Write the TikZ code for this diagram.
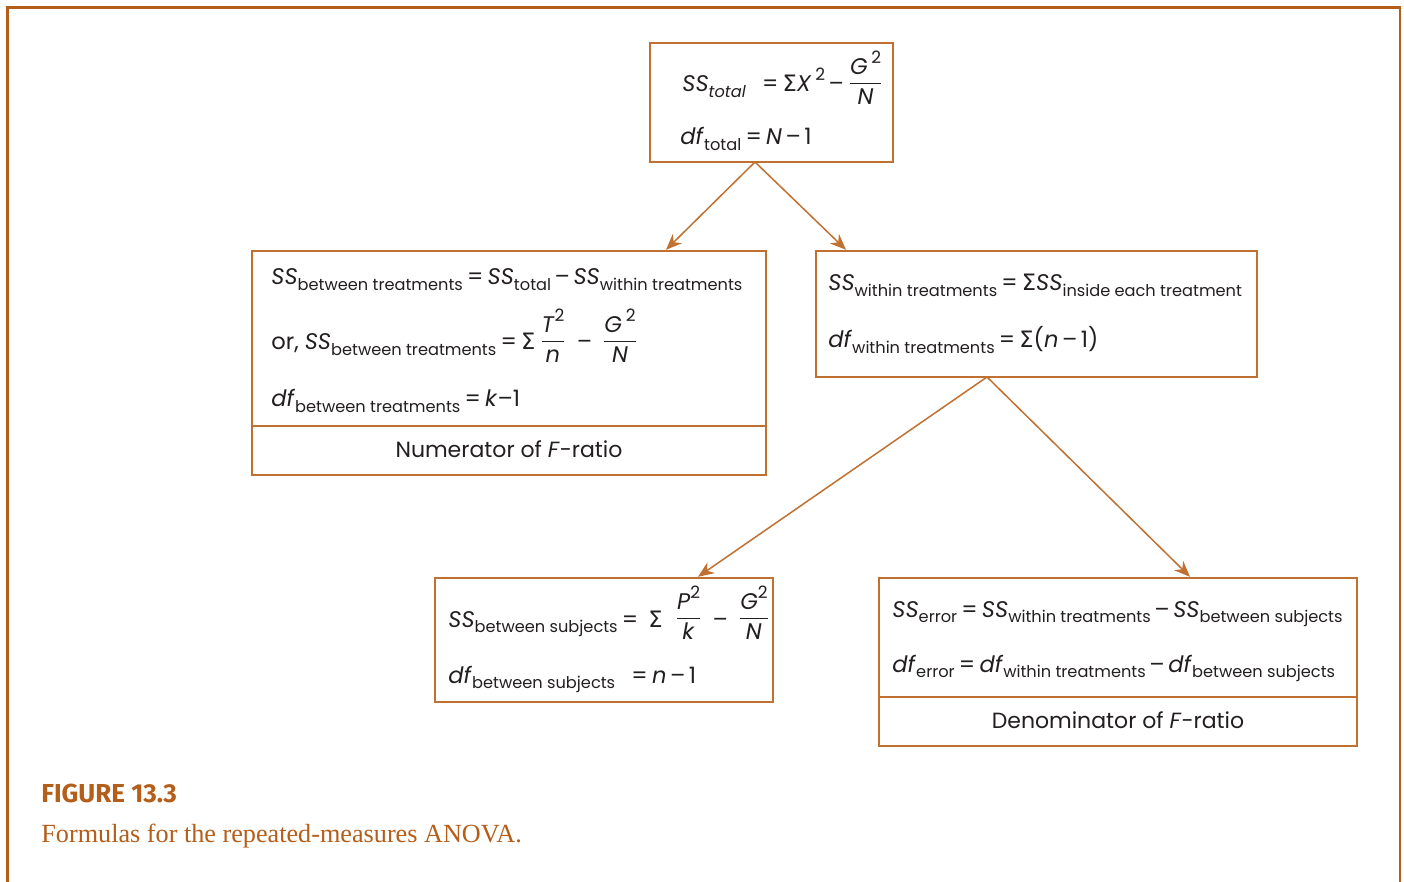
\documentclass[tikz,border=0pt]{standalone}
\usepackage{fontspec}
\usetikzlibrary{arrows.meta,calc}
\setmainfont{Poppins}
\newfontfamily\grk{DejaVu Sans}
\newfontfamily\capserif{Liberation Serif}
\newfontfamily\capsans{Fira Sans}
\definecolor{framec}{RGB}{181,94,26}
\definecolor{boxc}{RGB}{192,112,48}
\definecolor{txtc}{RGB}{35,31,32}
\newcommand\vi[1]{\textit{#1}}
\newcommand\sbs[1]{\raisebox{-0.45ex}{\fontsize{8.1}{9}\selectfont #1}}
\newcommand\sqr{\raisebox{0.9ex}{\fontsize{8.5}{9}\selectfont 2}}
\newcommand\Sig{{\grk Σ}}
\newcommand\mns{\hspace{1.8pt}\textendash\hspace{1.8pt}}
\newcommand\wmns{\hspace{5pt}\textendash\hspace{5pt}}
\newcommand\eq{\hspace{2.1pt}=\hspace{2.1pt}}
\newcommand\fr[2]{\raisebox{1.5pt}{$\displaystyle\frac{\mbox{#1}}{\mbox{#2}}$}}
\begin{document}
\begin{tikzpicture}[x=0.5pt,y=-0.5pt,
  box/.style={draw=boxc,line width=0.8pt,inner sep=0pt,outer sep=0pt,rectangle},
  frm/.style={framec,line width=1.4pt},
  arr/.style={draw=boxc,line width=0.75pt,-{Stealth[length=8pt,width=6.5pt]}},
  ftxt/.style={anchor=base west,inner sep=0pt,text=txtc,font=\fontsize{11.3}{13}\selectfont},
  ctxt/.style={anchor=center,inner sep=0pt,text=txtc,font=\fontsize{11}{13}\selectfont}]
\useasboundingbox (0,0) rectangle (1404,882);
\fill[white] (0,0) rectangle (1404,882);
% frame
\draw[frm] (7.5,882) -- (7.5,7.5) -- (1400,7.5) -- (1400,882);
% boxes
\node[box,minimum width=121.5pt,minimum height=59.5pt] (top) at (771.5,102.5) {};
\node[box,minimum width=257pt,minimum height=112pt] (left) at (509,363) {};
\node[box,minimum width=220.5pt,minimum height=63pt] (within) at (1036.5,314) {};
\node[box,minimum width=169pt,minimum height=62pt] (subj) at (604,640) {};
\node[box,minimum width=239pt,minimum height=84pt] (err) at (1118,662) {};
\draw[draw=boxc,line width=0.8pt] (left.west |- 0,426) -- (left.east |- 0,426);
\draw[draw=boxc,line width=0.8pt] (err.west |- 0,697) -- (err.east |- 0,697);
% connectors
\draw[arr] ([xshift=-8.25pt]top.south) -- ([xshift=78.5pt,yshift=0.6pt]left.north);
\draw[arr] ([xshift=-8.25pt]top.south) -- ([xshift=-95.25pt,yshift=0.6pt]within.north);
\draw[arr] ([xshift=-24.75pt]within.south) -- ([xshift=47pt,yshift=0.6pt]subj.north);
\draw[arr] ([xshift=-24.75pt]within.south) -- ([xshift=36pt,yshift=0.6pt]err.north);
% top box text
\node[ftxt] (t1) at (682,92) {\vi{SS}\sbs{\vi{total}}\ \ \eq\Sig\vi{X}\,\sqr\mns\fr{\vi{G}\,\sqr}{\vi{N}}};
\node[ftxt] (t2) at (680,145) {\vi{df}\sbs{total}\eq\vi{N}\mns 1};
% left box text
\node[ftxt] (l1) at (271,285) {\vi{SS}\sbs{between treatments}\eq\vi{SS}\sbs{total}\mns\vi{SS}\sbs{within treatments}};
\node[ftxt] (l2) at (271,350) {or,\ \vi{SS}\sbs{between treatments}\eq\Sig\,\fr{\vi{T}\sqr}{\vi{n}}\wmns\fr{\vi{G}\,\sqr}{\vi{N}}};
\node[ftxt] (l3) at (271,407) {\vi{df}\sbs{between treatments}\eq\vi{k}\textendash 1};
\node[ctxt] (l4) at (509,449) {Numerator of \vi{F}-ratio};
% within box text
\node[ftxt] (w1) at (828,291) {\vi{SS}\sbs{within treatments}\eq\Sig\vi{SS}\sbs{inside each treatment}};
\node[ftxt] (w2) at (828,348) {\vi{df}\sbs{within treatments}\eq\Sig(\vi{n}\mns 1)};
% subjects box text
\node[ftxt] (s1) at (448,627) {\vi{SS}\sbs{between subjects}\eq\ \Sig\ \ \fr{\vi{P}\sqr}{\vi{k}}\wmns\fr{\vi{G}\sqr}{\vi{N}}};
\node[ftxt] (s2) at (448,683) {\vi{df}\sbs{between subjects}\ \ \eq\vi{n}\mns 1};
% error box text
\node[ftxt] (e1) at (892,617) {\vi{SS}\sbs{error}\eq\vi{SS}\sbs{within treatments}\mns\vi{SS}\sbs{between subjects}};
\node[ftxt] (e2) at (892,672) {\vi{df}\sbs{error}\eq\vi{df}\sbs{within treatments}\mns\vi{df}\sbs{between subjects}};
\node[ctxt] (e3) at (1118,720) {Denominator of \vi{F}-ratio};
% caption
\node[anchor=base west,inner sep=0pt,text=framec,font=\capsans\bfseries\fontsize{13}{15}\selectfont] (fig) at (41,802) {FIGURE 13.3};
\node[anchor=base west,inner sep=0pt,text=framec,font=\capserif\fontsize{13.1}{15}\selectfont] (cap) at (41,842) {Formulas for the repeated-measures ANOVA.};
\end{tikzpicture}
\end{document}
